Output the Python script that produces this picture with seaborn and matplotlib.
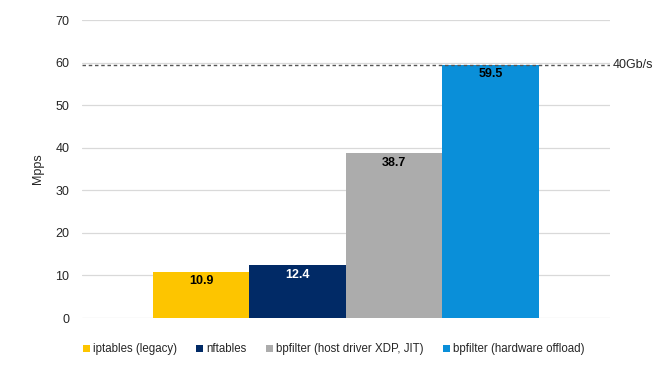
import pandas as pd
from matplotlib import pyplot as plt
import seaborn as sns

series = ["iptables (legacy)", "nftables", "bpfilter (host driver XDP, JIT)", "bpfilter (hardware offload)"]
mpps = [10.9, 12.4, 38.7, 59.5]
colors = ["#fdc500", "#012a66", "#acacac", "#0a8fd9"]
label_colors = ["black", "white", "black", "black"]
line_rate = 59.5
line_label = "40Gb/s"

sns.set_style("white")
plt.rcParams["font.family"] = ["Liberation Sans", "DejaVu Sans"]

plots_data = pd.DataFrame({"group": ["all"] * len(series), "series": series, "Mpps": mpps})

fig = plt.figure(figsize=(6.65, 3.72), dpi=100)
ax = fig.add_axes([0.123, 0.145, 0.794, 0.801])
sns.barplot(data=plots_data, x="group", y="Mpps", hue="series", hue_order=series,
            palette=colors, width=0.73, gap=0, saturation=1, linewidth=0,
            ax=ax, legend=True)

for container, val, c in zip(ax.containers, mpps, label_colors):
    ax.bar_label(container, labels=[f"{val:.1f}"], padding=-11, color=c,
                 fontsize=9, fontweight="bold")

ax.set_ylim(0, 70)
ax.set_xlim(-0.5, 0.5)
ax.set_yticks(range(0, 71, 10))
ax.yaxis.grid(True, color="#d9d9d9", linewidth=0.9)
ax.set_axisbelow(True)
ax.tick_params(axis="y", length=0, labelsize=9, pad=9)
ax.set_xticks([])
ax.set_xlabel("")
ax.set_ylabel("Mpps", fontsize=9, labelpad=8)
sns.despine(left=True, bottom=True)

ax.axhline(line_rate, color="#555555", linestyle=(0, (2.5, 2)), linewidth=1, zorder=3)
ax.text(1.005, line_rate, line_label, transform=ax.get_yaxis_transform(),
        va="center", ha="left", fontsize=9)

ax.legend(loc="upper center", bbox_to_anchor=(0.477, -0.05), ncol=4, frameon=False,
          fontsize=8.3, handlelength=0.6, handleheight=0.6, handletextpad=0.25,
          columnspacing=1.7)

fig.savefig("out.png", dpi=100)
